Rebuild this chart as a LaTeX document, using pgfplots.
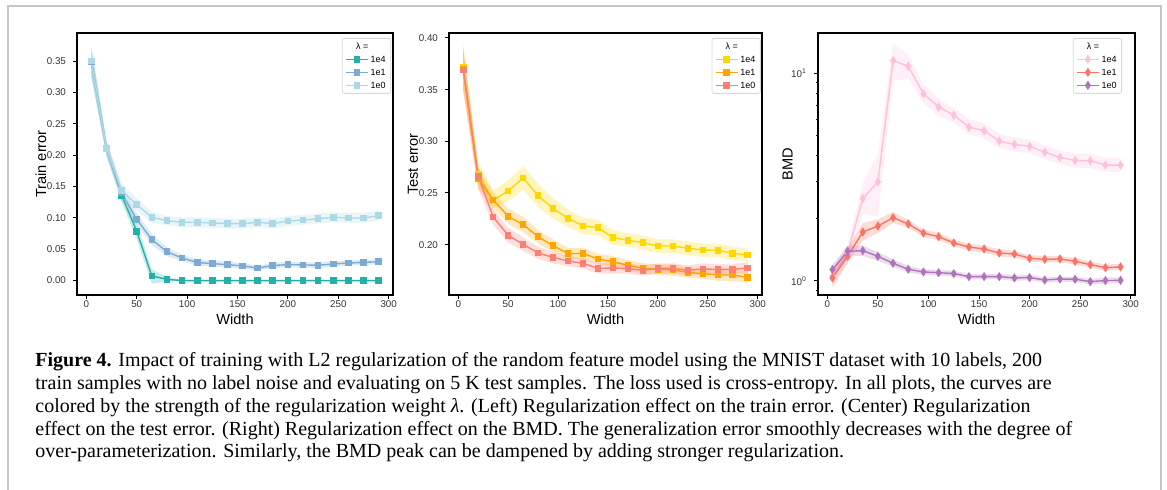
\documentclass[border=0pt]{standalone}
\usepackage{fontspec}
\setmainfont{Liberation Sans}
\newfontfamily\capfont{Liberation Serif}
\usepackage{pgfplots}
\usepackage{pgfplotstable}
\pgfplotsset{compat=1.18}

\definecolor{p1a}{RGB}{32,178,170}
\definecolor{p1b}{RGB}{125,170,210}
\definecolor{p1c}{RGB}{173,216,230}
\definecolor{p2a}{RGB}{255,215,0}
\definecolor{p2b}{RGB}{255,165,0}
\definecolor{p2c}{RGB}{250,128,114}
\definecolor{p3a}{RGB}{255,192,218}
\definecolor{p3b}{RGB}{250,115,100}
\definecolor{p3c}{RGB}{175,115,185}

% mean curves, lambda = 1e4 (a), 1e1 (b), 1e0 (c)
\pgfplotstableread{
x   a      b      c
5   0.350  0.349  0.350
20  0.211  0.210  0.211
35  0.136  0.140  0.144
50  0.0786 0.0977 0.121
65  0.0074 0.0653 0.101
80  0.002  0.046  0.0955
95  0      0.036  0.093
110 0      0.029  0.093
125 0      0.027  0.092
140 0      0.0255 0.091
155 0      0.0234 0.0908
170 0      0.020  0.093
185 0      0.024  0.091
200 0      0.0255 0.095
215 0      0.025  0.0966
230 0      0.0244 0.0987
245 0      0.0265 0.101
260 0      0.028  0.0998
275 0      0.029  0.0998
290 0      0.030  0.1035
}\trainerr

\pgfplotstableread{
x   a      b      c
5   0.3716 0.370  0.369
20  0.2677 0.2635 0.2658
35  0.2432 0.2432 0.2268
50  0.2519 0.2274 0.209
65  0.2645 0.2194 0.2003
80  0.2474 0.2077 0.1919
95  0.2348 0.199  0.1877
110 0.2255 0.1913 0.1842
125 0.2181 0.1916 0.1819
140 0.2165 0.1861 0.1771
155 0.2068 0.1835 0.1774
170 0.2042 0.180  0.1768
185 0.2019 0.1771 0.1752
200 0.1987 0.1761 0.1771
215 0.1987 0.1755 0.1771
230 0.1965 0.1732 0.1752
245 0.1948 0.1719 0.1765
260 0.1945 0.1706 0.1761
275 0.1916 0.1706 0.1761
290 0.190  0.1684 0.1774
}\testerr

\pgfplotstableread{
x   a      b      c
5   1.05   1.034  1.134
20  1.363  1.314  1.389
35  2.488  1.72   1.399
50  3.00   1.838  1.314
65  11.5   2.016  1.216
80  10.77  1.88   1.138
95  7.95   1.70   1.105
110 6.865  1.634  1.096
125 6.28   1.523  1.085
140 5.50   1.457  1.049
155 5.28   1.425  1.049
170 4.71   1.363  1.049
185 4.54   1.348  1.034
200 4.44   1.285  1.038
215 4.17   1.271  1.011
230 3.93   1.276  1.022
245 3.80   1.243  1.019
260 3.79   1.198  0.993
275 3.61   1.159  1.004
290 3.61   1.168  1.007
}\bmd

\pgfplotsset{
  panel/.style={
    scale only axis, height=131pt,
    xmin=-9.25, xmax=304.25, xtick={0,50,100,150,200,250,300},
    axis line style={line width=0.55pt},
    tick align=outside, xtick pos=bottom, ytick pos=left,
    major tick length=2pt, minor tick length=1.1pt,
    tick style={black, line width=0.5pt},
    tick label style={font=\fontsize{4.9}{5}\selectfont, text=black!80},
    xticklabel style={inner sep=0.8pt},
    /pgf/number format/assume math mode=true,
    xlabel=Width,
    every axis x label/.style={at={(axis description cs:0.5,-0.094)}, anchor=center, font=\fontsize{7.3}{8}\selectfont},
    every axis y label/.style={at={(axis description cs:-0.114,0.5)}, anchor=center, rotate=90, font=\fontsize{7.3}{8}\selectfont},
    legend style={anchor=north east, draw=black!15, rounded corners=1pt,
      font=\fontsize{4.5}{5}\selectfont, inner xsep=1.5pt, inner ysep=1pt,
      row sep=0.5pt, nodes={inner sep=1pt, text height=3.4pt, text depth=0.6pt}},
    legend cell align=left,
    legend image code/.code={\draw[mark repeat=2,mark phase=2,##1] plot coordinates {(0pt,0pt) (5.5pt,0pt) (11pt,0pt)};},
  },
  ln/.style={color=#1, line width=0.7pt, mark=square*, mark size=1.3pt, mark options={solid, fill=#1, draw=#1}},
  dn/.style={color=#1, line width=0.7pt, mark=diamond*, mark size=1.7pt, mark options={solid, fill=#1, draw=#1, xscale=0.85}},
  band/.style={fill=#1, fill opacity=0.25, draw=none, forget plot},
}

\begin{document}
\begin{tikzpicture}
\path[use as bounding box] (0pt,0pt) rectangle (583.5pt,-245pt);
\draw[black!22, line width=1pt] (4pt,-245pt) -- (4pt,-3pt) -- (580.5pt,-3pt) -- (580.5pt,-245pt);

% left: train error
\begin{axis}[panel, at={(38.5pt,-147.5pt)}, anchor=south west, width=158pt,
  ymin=-0.023, ymax=0.395, ytick={0,0.05,0.1,0.15,0.2,0.25,0.3,0.35},
  yticklabel style={/pgf/number format/.cd, fixed, fixed zerofill, precision=2},
  ylabel={Train error},
  legend style={at={(0.994,0.981)}}]
\addlegendimage{empty legend}\addlegendentry{\hspace*{-7.5pt}λ =}
\addplot[band=p1a] coordinates {(5,0.372)(20,0.222)(35,0.146)(50,0.092)(65,0.018)(80,0.006)(95,0.001)(290,0.001)
  (290,-0.001)(95,-0.001)(80,-0.002)(65,-0.005)(50,0.066)(35,0.125)(20,0.200)(5,0.325)};
\addplot[ln=p1a] table[x=x, y=a] {\trainerr}; \addlegendentry{1e4}
\addplot[band=p1b] coordinates {(5,0.370)(20,0.222)(35,0.150)(50,0.108)(65,0.074)(80,0.053)(95,0.041)(110,0.034)(125,0.032)(140,0.030)(155,0.028)(170,0.024)(185,0.028)(200,0.030)(215,0.029)(230,0.029)(245,0.031)(260,0.032)(275,0.033)(290,0.034)
  (290,0.026)(275,0.025)(260,0.024)(245,0.022)(230,0.020)(215,0.021)(200,0.021)(185,0.020)(170,0.016)(155,0.019)(140,0.021)(125,0.022)(110,0.024)(95,0.031)(80,0.039)(65,0.057)(50,0.088)(35,0.130)(20,0.198)(5,0.327)};
\addplot[ln=p1b] table[x=x, y=b] {\trainerr}; \addlegendentry{1e1}
\addplot[band=p1c] coordinates {(5,0.376)(20,0.224)(35,0.156)(50,0.131)(65,0.110)(80,0.103)(95,0.101)(110,0.101)(125,0.100)(140,0.099)(155,0.099)(170,0.101)(185,0.099)(200,0.103)(215,0.105)(230,0.107)(245,0.109)(260,0.108)(275,0.108)(290,0.111)
  (290,0.096)(275,0.092)(260,0.092)(245,0.093)(230,0.091)(215,0.089)(200,0.087)(185,0.083)(170,0.085)(155,0.083)(140,0.083)(125,0.084)(110,0.085)(95,0.085)(80,0.088)(65,0.092)(50,0.111)(35,0.132)(20,0.199)(5,0.326)};
\addplot[ln=p1c] table[x=x, y=c] {\trainerr}; \addlegendentry{1e0}
\end{axis}

% centre: test error
\begin{axis}[panel, at={(224.5pt,-147.5pt)}, anchor=south west, width=156.5pt,
  ymin=0.1513, ymax=0.4048, ytick={0.2,0.25,0.3,0.35,0.4},
  yticklabel style={/pgf/number format/.cd, fixed, fixed zerofill, precision=2},
  ylabel={Test error},
  every axis y label/.append style={at={(axis description cs:-0.115,0.5)}},
  legend style={at={(0.996,0.981)}}]
\addlegendimage{empty legend}\addlegendentry{\hspace*{-7.5pt}λ =}
\addplot[band=p2a] coordinates {(5,0.394)(20,0.280)(35,0.252)(50,0.262)(65,0.276)(80,0.259)(95,0.245)(110,0.234)(125,0.226)(140,0.224)(155,0.214)(170,0.211)(185,0.209)(200,0.205)(215,0.205)(230,0.203)(245,0.201)(260,0.201)(275,0.198)(290,0.196)
  (290,0.184)(275,0.185)(260,0.188)(245,0.188)(230,0.190)(215,0.192)(200,0.192)(185,0.195)(170,0.198)(155,0.200)(140,0.209)(125,0.210)(110,0.217)(95,0.225)(80,0.236)(65,0.253)(50,0.242)(35,0.235)(20,0.258)(5,0.350)};
\addplot[ln=p2a] table[x=x, y=a] {\testerr}; \addlegendentry{1e4}
\addplot[band=p2b] coordinates {(5,0.390)(20,0.274)(35,0.251)(50,0.235)(65,0.227)(80,0.214)(95,0.205)(110,0.197)(125,0.197)(140,0.191)(155,0.189)(170,0.185)(185,0.182)(200,0.181)(215,0.181)(230,0.178)(245,0.177)(260,0.176)(275,0.176)(290,0.174)
  (290,0.163)(275,0.165)(260,0.165)(245,0.167)(230,0.168)(215,0.170)(200,0.171)(185,0.172)(170,0.175)(155,0.178)(140,0.181)(125,0.186)(110,0.186)(95,0.193)(80,0.201)(65,0.212)(50,0.220)(35,0.236)(20,0.254)(5,0.350)};
\addplot[ln=p2b] table[x=x, y=b] {\testerr}; \addlegendentry{1e1}
\addplot[band=p2c] coordinates {(5,0.389)(20,0.276)(35,0.235)(50,0.216)(65,0.207)(80,0.198)(95,0.193)(110,0.189)(125,0.187)(140,0.182)(155,0.183)(170,0.182)(185,0.180)(200,0.182)(215,0.182)(230,0.180)(245,0.182)(260,0.181)(275,0.181)(290,0.183)
  (290,0.172)(275,0.171)(260,0.171)(245,0.171)(230,0.170)(215,0.172)(200,0.172)(185,0.170)(170,0.172)(155,0.172)(140,0.172)(125,0.177)(110,0.179)(95,0.182)(80,0.186)(65,0.194)(50,0.202)(35,0.219)(20,0.254)(5,0.349)};
\addplot[ln=p2c] table[x=x, y=c] {\testerr}; \addlegendentry{1e0}
\end{axis}

% right: BMD
\begin{axis}[panel, at={(409pt,-147.5pt)}, anchor=south west, width=158.5pt,
  ymode=log, ymin=0.856, ymax=15.6,
  ytick={1,10}, yticklabels={10\textsuperscript{0},10\textsuperscript{1}},
  minor ytick={0.9,2,3,4,5,6,7,8,9},
  ylabel={BMD},
  every axis y label/.append style={at={(axis description cs:-0.096,0.5)}},
  legend style={at={(0.959,0.981)}}]
\addlegendimage{empty legend}\addlegendentry{\hspace*{-7.5pt}λ =}
\addplot[band=p3a] coordinates {(5,1.14)(20,1.50)(35,2.95)(50,4.10)(65,13.8)(80,12.3)(95,8.8)(110,7.5)(125,6.8)(140,6.0)(155,5.75)(170,5.1)(185,4.9)(200,4.8)(215,4.5)(230,4.25)(245,4.1)(260,4.1)(275,3.9)(290,3.9)
  (290,3.35)(275,3.35)(260,3.5)(245,3.5)(230,3.65)(215,3.85)(200,4.1)(185,4.2)(170,4.35)(155,4.85)(140,5.05)(125,5.8)(110,6.2)(95,7.2)(80,9.4)(65,9.2)(50,2.05)(35,2.10)(20,1.22)(5,0.97)};
\addplot[dn=p3a] table[x=x, y=a] {\bmd}; \addlegendentry{1e4}
\addplot[band=p3b] coordinates {(5,1.14)(20,1.42)(35,1.90)(50,1.98)(65,2.15)(80,1.97)(95,1.77)(110,1.70)(125,1.58)(140,1.51)(155,1.48)(170,1.42)(185,1.40)(200,1.33)(215,1.32)(230,1.32)(245,1.29)(260,1.24)(275,1.20)(290,1.21)
  (290,1.13)(275,1.12)(260,1.16)(245,1.20)(230,1.23)(215,1.23)(200,1.24)(185,1.30)(170,1.31)(155,1.37)(140,1.40)(125,1.47)(110,1.57)(95,1.63)(80,1.80)(65,1.90)(50,1.70)(35,1.56)(20,1.22)(5,0.93)};
\addplot[dn=p3b] table[x=x, y=b] {\bmd}; \addlegendentry{1e1}
\addplot[band=p3c] coordinates {(5,1.20)(20,1.47)(35,1.48)(50,1.38)(65,1.27)(80,1.18)(95,1.14)(110,1.13)(125,1.12)(140,1.08)(155,1.08)(170,1.08)(185,1.07)(200,1.07)(215,1.04)(230,1.05)(245,1.05)(260,1.02)(275,1.04)(290,1.04)
  (290,0.98)(275,0.97)(260,0.96)(245,0.99)(230,0.99)(215,0.98)(200,1.01)(185,1.00)(170,1.02)(155,1.02)(140,1.02)(125,1.05)(110,1.06)(95,1.07)(80,1.10)(65,1.17)(50,1.25)(35,1.32)(20,1.31)(5,1.07)};
\addplot[dn=p3c] table[x=x, y=c] {\bmd}; \addlegendentry{1e0}
\end{axis}

% caption
\begin{scope}[every node/.style={anchor=base west, inner sep=0pt, font=\capfont\fontsize{10}{11}\selectfont}]
\node at (17.5pt,-183.5pt) {\textbf{Figure 4.} Impact of training with L2 regularization of the random feature model using the MNIST dataset with 10 labels, 200};
\node at (17.5pt,-195pt) {train samples with no label noise and evaluating on 5 K test samples. The loss used is cross-entropy. In all plots, the curves are};
\node at (17.5pt,-206.5pt) {colored by the strength of the regularization weight \textit{λ}. (Left) Regularization effect on the train error. (Center) Regularization};
\node at (17.5pt,-217.75pt) {effect on the test error. (Right) Regularization effect on the BMD. The generalization error smoothly decreases with the degree of};
\node at (17.5pt,-229pt) {over-parameterization. Similarly, the BMD peak can be dampened by adding stronger regularization.};
\end{scope}
\end{tikzpicture}
\end{document}
